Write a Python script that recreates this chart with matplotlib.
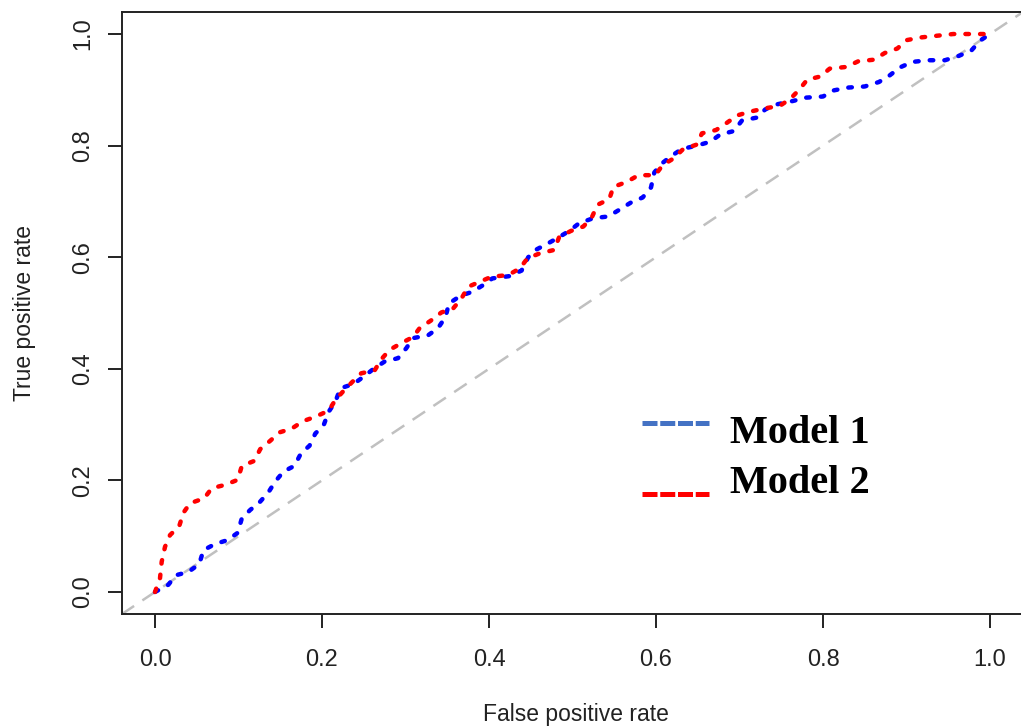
import matplotlib
matplotlib.use("Agg")
import matplotlib.pyplot as plt
from matplotlib.lines import Line2D

# ROC curve points (false positive rate, true positive rate)
fpr_model1 = [0.000, 0.016, 0.025, 0.040, 0.053, 0.058, 0.072, 0.087, 0.099, 0.104,
              0.114, 0.126, 0.136, 0.144, 0.154, 0.167, 0.175, 0.185, 0.192, 0.202,
              0.208, 0.216, 0.222, 0.238, 0.250, 0.261, 0.275, 0.291, 0.301, 0.309,
              0.327, 0.339, 0.348, 0.352, 0.366, 0.380, 0.393, 0.404, 0.424, 0.439,
              0.447, 0.457, 0.471, 0.485, 0.497, 0.508, 0.525, 0.543, 0.556, 0.570,
              0.584, 0.594, 0.598, 0.607, 0.618, 0.631, 0.649, 0.665, 0.677, 0.693,
              0.703, 0.720, 0.731, 0.745, 0.764, 0.780, 0.800, 0.813, 0.830, 0.850,
              0.867, 0.880, 0.892, 0.907, 0.926, 0.946, 0.963, 0.978, 0.988, 1.000]
tpr_model1 = [0.000, 0.013, 0.030, 0.036, 0.050, 0.075, 0.086, 0.093, 0.106, 0.132,
              0.147, 0.162, 0.179, 0.198, 0.216, 0.226, 0.249, 0.262, 0.284, 0.299,
              0.323, 0.341, 0.365, 0.373, 0.386, 0.399, 0.413, 0.419, 0.437, 0.455,
              0.460, 0.473, 0.493, 0.517, 0.531, 0.538, 0.550, 0.562, 0.566, 0.576,
              0.600, 0.614, 0.625, 0.637, 0.648, 0.661, 0.670, 0.673, 0.685, 0.698,
              0.707, 0.725, 0.752, 0.768, 0.781, 0.794, 0.800, 0.807, 0.820, 0.826,
              0.845, 0.850, 0.865, 0.874, 0.880, 0.886, 0.888, 0.899, 0.904, 0.906,
              0.914, 0.926, 0.940, 0.950, 0.953, 0.953, 0.961, 0.971, 0.988, 1.000]

fpr_model2 = [0.000, 0.006, 0.008, 0.012, 0.018, 0.029, 0.034, 0.042, 0.059, 0.068,
              0.084, 0.099, 0.104, 0.119, 0.126, 0.138, 0.149, 0.164, 0.177, 0.192,
              0.208, 0.216, 0.225, 0.236, 0.247, 0.263, 0.271, 0.281, 0.295, 0.309,
              0.317, 0.330, 0.343, 0.357, 0.367, 0.375, 0.389, 0.403, 0.423, 0.437,
              0.446, 0.461, 0.478, 0.484, 0.498, 0.513, 0.523, 0.530, 0.544, 0.549,
              0.565, 0.579, 0.599, 0.608, 0.621, 0.632, 0.649, 0.655, 0.672, 0.685,
              0.697, 0.713, 0.731, 0.748, 0.761, 0.772, 0.781, 0.797, 0.808, 0.828,
              0.842, 0.861, 0.874, 0.889, 0.900, 0.918, 0.937, 0.956, 0.978, 1.000]
tpr_model2 = [0.000, 0.025, 0.054, 0.081, 0.102, 0.118, 0.142, 0.159, 0.168, 0.186,
              0.192, 0.201, 0.226, 0.235, 0.256, 0.271, 0.286, 0.293, 0.306, 0.314,
              0.325, 0.344, 0.359, 0.376, 0.392, 0.397, 0.417, 0.434, 0.446, 0.457,
              0.473, 0.486, 0.501, 0.508, 0.526, 0.547, 0.556, 0.565, 0.568, 0.580,
              0.598, 0.607, 0.613, 0.636, 0.647, 0.655, 0.671, 0.694, 0.704, 0.726,
              0.735, 0.747, 0.747, 0.765, 0.777, 0.793, 0.802, 0.822, 0.828, 0.841,
              0.854, 0.861, 0.867, 0.871, 0.884, 0.901, 0.918, 0.924, 0.938, 0.941,
              0.951, 0.954, 0.966, 0.974, 0.989, 0.994, 0.997, 1.000, 1.000, 1.000]

tick_values = [0.0, 0.2, 0.4, 0.6, 0.8, 1.0]
tick_labels = ["0.0", "0.2", "0.4", "0.6", "0.8", "1.0"]
legend_labels = ["Model 1", "Model 2"]

W, H = 1021, 728
fig = plt.figure(figsize=(W / 100, H / 100), dpi=100)
fig.patch.set_facecolor("white")

left, right, top, bottom = 121.6, 1023.4, 11.7, 614.3
ax = fig.add_axes([left / W, 1 - bottom / H, (right - left) / W, (bottom - top) / H])
ax.set_xlim(-0.04, 1.04)
ax.set_ylim(-0.04, 1.04)

# chance diagonal
ax.plot([-0.04, 1.04], [-0.04, 1.04], color="#c0c0c0", lw=1.8,
        linestyle=(0, (6, 4)), zorder=1)

curve_style = dict(lw=3.2, linestyle=(0, (0.8, 2.5)), dash_capstyle="round", zorder=3)
ax.plot(fpr_model1, tpr_model1, color="#0000ff", **curve_style)
ax.plot(fpr_model2, tpr_model2, color="#ff0000", **curve_style)

# R-style axes: box open on the right, bottom/left ticks outward
for side in ["left", "top", "bottom"]:
    ax.spines[side].set_linewidth(1.4)
    ax.spines[side].set_color("#222222")
ax.spines["right"].set_visible(False)

ax.set_xticks(tick_values)
ax.set_xticklabels(tick_labels)
ax.set_yticks(tick_values)
ax.set_yticklabels(tick_labels, rotation=90, va="center")
ax.tick_params(axis="both", direction="out", length=10, width=1.4, color="#222222",
               labelsize=17, labelcolor="#222222")
ax.tick_params(axis="x", pad=15)
ax.tick_params(axis="y", pad=10)
for lab in ax.get_xticklabels() + ax.get_yticklabels():
    lab.set_family(["Liberation Sans", "DejaVu Sans"])

ax.set_xlabel("False positive rate", fontsize=16.5, color="#222222",
              family=["Liberation Sans", "DejaVu Sans"])
ax.set_ylabel("True positive rate", fontsize=16.5, color="#222222",
              family=["Liberation Sans", "DejaVu Sans"])
ax.xaxis.set_label_coords((576 - left) / (right - left), -(714 - bottom) / (bottom - top))
ax.yaxis.set_label_coords(-(left - 25) / (right - left), (bottom - 313) / (bottom - top))
ax.xaxis.label.set_va("center")
ax.yaxis.label.set_va("center")

# hand-placed legend
legend_colors = ["#4472c4", "#ff0000"]
legend_line_y = [422.7, 494.0]
legend_text_y = [443.3, 493.0]
for lbl, col, ly, ty in zip(legend_labels, legend_colors, legend_line_y, legend_text_y):
    fig.add_artist(Line2D([641.7 / W, 709.0 / W], [1 - ly / H, 1 - ly / H],
                          color=col, lw=3.6, linestyle=(0, (3.0, 0.55)),
                          dash_capstyle="butt", transform=fig.transFigure))
    fig.text(730 / W, 1 - ty / H, lbl, fontsize=29, fontweight="bold",
             family=["Liberation Serif", "DejaVu Serif"], color="black",
             ha="left", va="baseline")

fig.savefig("out.png", dpi=100, facecolor="white")
